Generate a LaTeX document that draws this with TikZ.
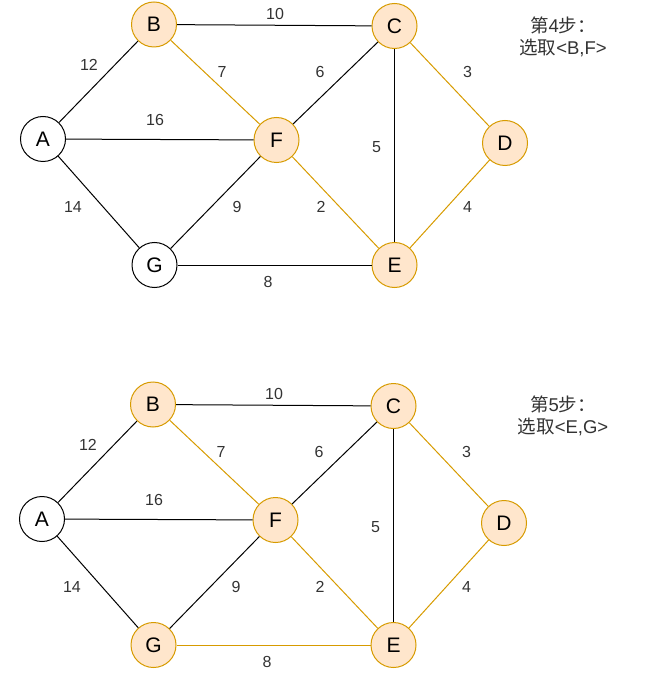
\documentclass[tikz,border=0pt]{standalone}
\usepackage{fontspec}
\setmainfont{Liberation Sans}
\newfontfamily\cjk{Noto Sans CJK SC}
\definecolor{ofill}{HTML}{FFE6CC}
\definecolor{oline}{HTML}{D79B00}
\definecolor{lbl}{HTML}{333333}
\begin{document}
\begin{tikzpicture}[x=1pt,y=-1pt,
  vtx/.style={circle,draw=black,fill=white,line width=1pt,minimum size=45pt,inner sep=0pt,font=\fontsize{21}{24}\selectfont},
  sel/.style={vtx,draw=oline,fill=ofill},
  edg/.style={draw=black,line width=1pt},
  oedg/.style={draw=oline,line width=1pt},
  wt/.style={text=lbl,inner sep=0pt,font=\fontsize{16}{18}\selectfont},
  note/.style={align=center,inner sep=0pt,text=lbl,font=\fontsize{18.5}{22.5}\selectfont}]
\useasboundingbox (0,0) rectangle (659,700);
% ---------- top graph ----------
\node[vtx] (A1) at (43,139) {A};
\node[sel] (B1) at (154,24.5) {B};
\node[sel] (C1) at (394.5,26) {C};
\node[sel] (D1) at (505,143) {D};
\node[sel] (E1) at (394.5,265) {E};
\node[sel] (F1) at (276.5,140) {F};
\node[vtx] (G1) at (154.5,265) {G};
\draw[edg] (A1) -- (B1);
\draw[edg] (A1) -- (F1);
\draw[edg] (A1) -- (G1);
\draw[edg] (B1) -- (C1);
\draw[edg] (C1) -- (F1);
\draw[edg] (F1) -- (G1);
\draw[edg] (G1) -- (E1);
\draw[edg] (C1) -- (E1);
\draw[oedg] (B1) -- (F1);
\draw[oedg] (F1) -- (E1);
\draw[oedg] (C1) -- (D1);
\draw[oedg] (D1) -- (E1);
\node[wt] (w10a) at (275,14) {10};
\node[wt] (w12a) at (89,65) {12};
\node[wt] (w7a) at (222,72) {7};
\node[wt] (w6a) at (320,72) {6};
\node[wt] (w16a) at (155,120) {16};
\node[wt] (w14a) at (73,207) {14};
\node[wt] (w9a) at (237,207) {9};
\node[wt] (w2a) at (321,207) {2};
\node[wt] (w8a) at (268,282) {8};
\node[wt] (w3a) at (467.5,72) {3};
\node[wt] (w5a) at (376.5,147) {5};
\node[wt] (w4a) at (467.5,207) {4};
\node[note] (t1) at (563,37) {{\cjk 第}4{\cjk 步：}\\{\cjk 选取}<B,F>};
% ---------- bottom graph ----------
\node[vtx] (A2) at (42,519) {A};
\node[sel] (B2) at (153,404.5) {B};
\node[sel] (C2) at (393.5,406) {C};
\node[sel] (D2) at (504,523) {D};
\node[sel] (E2) at (393.5,645) {E};
\node[sel] (F2) at (275.5,520) {F};
\node[sel] (G2) at (153.5,645) {G};
\draw[edg] (A2) -- (B2);
\draw[edg] (A2) -- (F2);
\draw[edg] (A2) -- (G2);
\draw[edg] (B2) -- (C2);
\draw[edg] (C2) -- (F2);
\draw[edg] (F2) -- (G2);
\draw[edg] (C2) -- (E2);
\draw[oedg] (G2) -- (E2);
\draw[oedg] (B2) -- (F2);
\draw[oedg] (F2) -- (E2);
\draw[oedg] (C2) -- (D2);
\draw[oedg] (D2) -- (E2);
\node[wt] (w10b) at (274,394) {10};
\node[wt] (w12b) at (88,445) {12};
\node[wt] (w7b) at (221,452) {7};
\node[wt] (w6b) at (319,452) {6};
\node[wt] (w16b) at (154,500) {16};
\node[wt] (w14b) at (72,587) {14};
\node[wt] (w9b) at (236,587) {9};
\node[wt] (w2b) at (320,587) {2};
\node[wt] (w8b) at (267,662) {8};
\node[wt] (w3b) at (466.5,452) {3};
\node[wt] (w5b) at (375.5,527) {5};
\node[wt] (w4b) at (466.5,587) {4};
\node[note] (t2) at (563,416) {{\cjk 第}5{\cjk 步：}\\{\cjk 选取}<E,G>};
\end{tikzpicture}
\end{document}
